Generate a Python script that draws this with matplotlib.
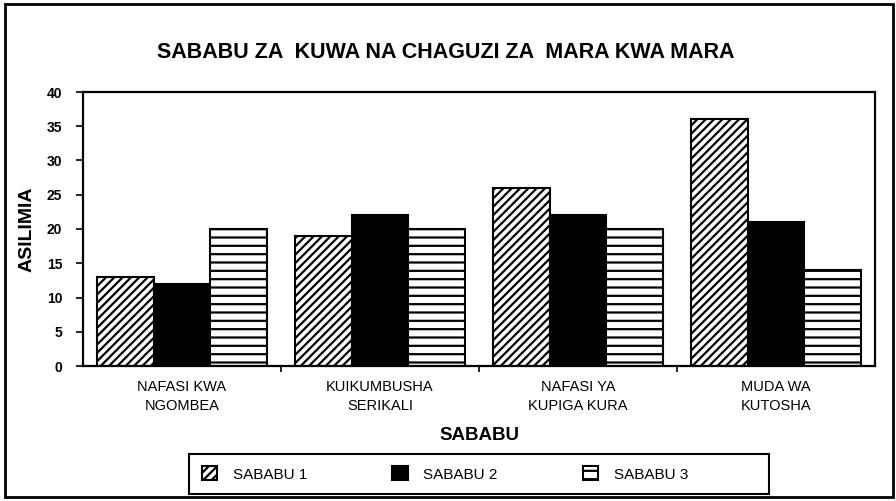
import matplotlib
matplotlib.use('Agg')
import matplotlib.pyplot as plt
from matplotlib.patches import Rectangle
import numpy as np

plt.rcParams['font.family'] = ['Liberation Sans Narrow', 'Liberation Sans', 'DejaVu Sans']
plt.rcParams['hatch.linewidth'] = 1.6
plt.rcParams['hatch.color'] = 'black'

categories = ['NAFASI KWA\nNGOMBEA', 'KUIKUMBUSHA\nSERIKALI', 'NAFASI YA\nKUPIGA KURA', 'MUDA WA\nKUTOSHA']
series_names = ['SABABU 1', 'SABABU 2', 'SABABU 3']
sababu1 = [13, 19, 26, 36]
sababu2 = [12, 22, 22, 21]
sababu3 = [20, 20, 20, 14]

fig = plt.figure(figsize=(8.96, 5.01), dpi=100)
ax = fig.add_axes([83/896, 1 - 366/501, 792/896, 274/501])

x = np.arange(len(categories))
w = 0.285
ax.bar(x - w, sababu1, w, facecolor='white', edgecolor='black', hatch='////', linewidth=1.5, label=series_names[0])
ax.bar(x, sababu2, w, facecolor='black', edgecolor='black', linewidth=1.5, label=series_names[1])
ax.bar(x + w, sababu3, w, facecolor='white', edgecolor='black', hatch='--', linewidth=1.5, label=series_names[2])

ax.set_xlim(-0.5, 3.5)
ax.set_ylim(0, 40)
ax.set_yticks(range(0, 41, 5))
ax.tick_params(axis='y', direction='out', length=5, width=1.2, pad=10, labelsize=10)
for lab in ax.get_yticklabels():
    lab.set_fontweight('bold')
ax.set_xticks(x)
ax.set_xticklabels(categories, fontsize=10.5, linespacing=1.5)
ax.tick_params(axis='x', which='major', length=0, pad=10)
ax.set_xticks([0.5, 1.5, 2.5], minor=True)
ax.tick_params(axis='x', which='minor', direction='out', length=4, width=1.2)
for s in ax.spines.values():
    s.set_linewidth(1.6)

ax.set_ylabel('ASILIMIA', fontsize=14, fontweight='bold', labelpad=8)
ax.set_xlabel('SABABU', fontsize=13.5, fontweight='bold', labelpad=10)

fig.text(446/896, 1 - 52/501, 'SABABU ZA  KUWA NA CHAGUZI ZA  MARA KWA MARA',
         ha='center', va='center', fontsize=15.5, fontweight='bold')

# legend entries without frame, box drawn separately like the original
leg = fig.legend(loc='center left', bbox_to_anchor=(202/896, 1 - 474/501), ncol=3,
                 fontsize=11, frameon=False, handlelength=1.0,
                 handleheight=1.0, columnspacing=5.6, handletextpad=1.0,
                 borderpad=0, borderaxespad=0)

fig.patches.append(Rectangle((189/896, 1 - 494/501), 580/896, 40/501, transform=fig.transFigure,
                             fill=False, edgecolor='black', linewidth=1.5))
fig.patches.append(Rectangle((5/896, 4/501), 888/896, 493/501, transform=fig.transFigure,
                             fill=False, edgecolor='black', linewidth=2))

fig.savefig('out.png', dpi=100)
